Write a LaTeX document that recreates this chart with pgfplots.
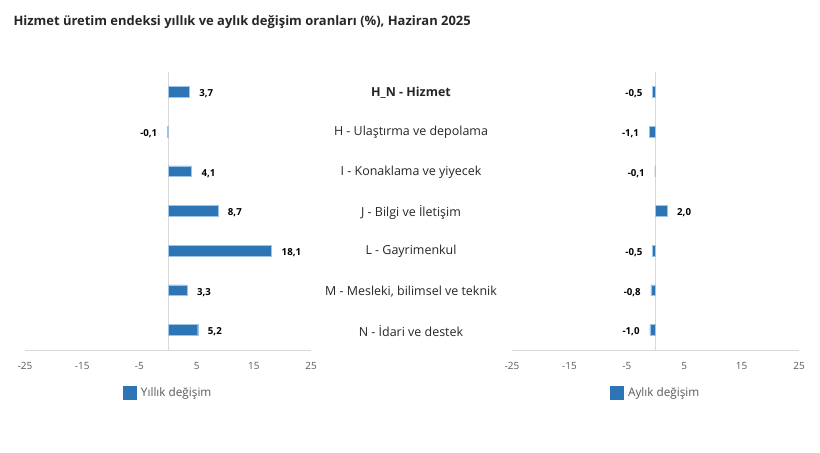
\documentclass[border=0pt]{standalone}
\usepackage{fontspec}
\setmainfont{Open Sans}
\usepackage{pgfplots}
\pgfplotsset{compat=1.18}
\definecolor{barblue}{HTML}{2E75B6}
\definecolor{baredge}{HTML}{9DC3E6}
\definecolor{axgray}{HTML}{D9D9D9}
\definecolor{txtgray}{HTML}{595959}
\definecolor{txtdark}{HTML}{262626}

\pgfplotsset{
  chg/.style={
    scale only axis, width=286bp, height=277.8bp,
    xbar, bar width=10.7bp,
    xmin=-25, xmax=25, ymin=0.5, ymax=7.5, y dir=reverse,
    xtick={-25,-15,-5,5,15,25},
    axis x line*=bottom, axis y line*=left,
    x axis line style={draw=axgray, -},
    y axis line style={draw=none},
    major tick length=0pt,
    xticklabel style={font=\fontsize{10}{12}\selectfont, text=txtgray, yshift=-9bp},
    /pgf/number format/assume math mode=true,
    point meta=x,
    nodes near coords={\pgfmathprintnumber[fixed,fixed zerofill,precision=1,use comma,assume math mode=true]{\pgfplotspointmeta}},
    nodes near coords style={font=\bfseries\fontsize{9.7}{11}\selectfont, text=black,
      inner xsep=10bp, yshift=-2bp},
    legend style={draw=none, font=\fontsize{11.8}{14}\selectfont, text=txtgray, legend cell align=left,
      column sep=3bp, at={(0.5,-0.155)}, anchor=center},
    legend image code/.code={\fill[barblue] (0bp,-6.5bp) rectangle (13bp,6.5bp);},
    clip=false,
  }
}

\begin{document}
\begin{tikzpicture}
\useasboundingbox (0bp,0bp) rectangle (820bp,453bp);

\node[anchor=west, font=\bfseries\fontsize{13}{15}\selectfont, text=txtdark] at (10bp,431bp)
  {Hizmet üretim endeksi yıllık ve aylık değişim oranları (\%), Haziran 2025};

% yillik
\begin{axis}[chg, at={(25bp,103.2bp)}, anchor=south west, ytick=\empty]
\draw[axgray] (axis cs:0,0.5) -- (axis cs:0,7.5);
\addplot[fill=barblue, draw=baredge, line width=0.4bp] coordinates {
  (3.7,1) (-0.1,2) (4.1,3) (8.7,4) (18.1,5) (3.3,6) (5.2,7)
};
\legend{Yıllık değişim}
\end{axis}

% aylik
\begin{axis}[chg, at={(512bp,103.2bp)}, anchor=south west, width=287bp,
  ytick={1,...,7},
  yticklabels={\textbf{H\_N - Hizmet}, H - Ulaştırma ve depolama, I - Konaklama ve yiyecek,
    J - Bilgi ve İletişim, L - Gayrimenkul, {M - Mesleki, bilimsel ve teknik}, N - İdari ve destek},
  yticklabel style={anchor=center, xshift=-101bp, yshift=-1bp, font=\fontsize{12.5}{15}\selectfont, text=txtdark}]
\draw[axgray] (axis cs:0,0.5) -- (axis cs:0,7.5);
\addplot[fill=barblue, draw=baredge, line width=0.4bp] coordinates {
  (-0.5,1) (-1.1,2) (-0.1,3) (2.0,4) (-0.5,5) (-0.8,6) (-1.0,7)
};
\legend{Aylık değişim}
\end{axis}
\end{tikzpicture}
\end{document}
